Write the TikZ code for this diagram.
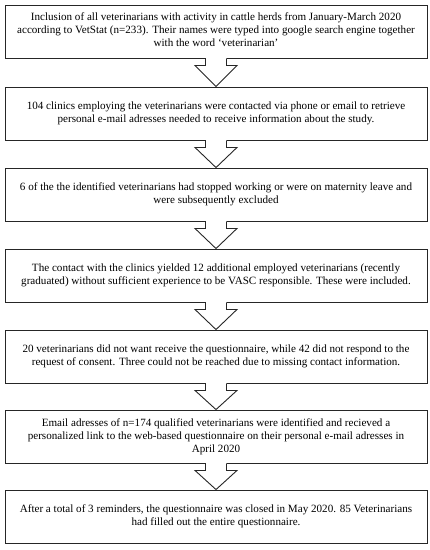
\documentclass[tikz,border=0pt]{standalone}
\usepackage{fontspec}
\setmainfont{Liberation Serif}
\usetikzlibrary{calc}
\tikzset{
  stagebox/.style={draw=black!85, line width=0.9pt, fill=white, minimum width=422pt, minimum height=53pt, inner sep=0pt, align=center, font=\fontsize{11.1}{13.2}\selectfont},
  arrowline/.style={draw=black!85, line width=0.9pt, line join=miter}
}
\newcommand\flowarrow[2]{%
  \fill[white] ($(#1.south)+(-10.5,-1.2)$) rectangle ($(#1.south)+(10.5,7)$);
  \draw[arrowline] ($(#1.south)+(-10.5,0)$) -- ($(#1.south)+(-10.5,7)$) -- ($(#1.south)+(-21,7)$) -- (#2.north) -- ($(#1.south)+(21,7)$) -- ($(#1.south)+(10.5,7)$) -- ($(#1.south)+(10.5,0)$);
}
\begin{document}
\begin{tikzpicture}[x=1pt,y=-1pt]
\useasboundingbox (0,0) rectangle (430,550);
\fill[white] (0,0) rectangle (430,550);
\node[stagebox] (s1) at (216,31.5) {Inclusion of all veterinarians with activity in cattle herds from January-March 2020\\according to VetStat (n=233). Their names were typed into google search engine together\\with the word ‘veterinarian’\vspace{4pt}};
\node[stagebox] (s2) at (216,113.5) {104 clinics employing the veterinarians were contacted via phone or email to retrieve\\personal e-mail adresses needed to receive information about the study.};
\node[stagebox] (s3) at (216,194.5) {6 of the the identified veterinarians had stopped working or were on maternity leave and\\were subsequently excluded};
\node[stagebox] (s4) at (216,275.5) {The contact with the clinics yielded 12 additional employed veterinarians (recently\\graduated) without sufficient experience to be VASC responsible. These were included.};
\node[stagebox] (s5) at (216,356.5) {20 veterinarians did not want receive the questionnaire, while 42 did not respond to the\\request of consent. Three could not be reached due to missing contact information.};
\node[stagebox] (s6) at (216,436.5) {Email adresses of n=174 qualified veterinarians were identified and recieved a\\personalized link to the web-based questionnaire on their personal e-mail adresses in\\April 2020};
\node[stagebox] (s7) at (216,516.5) {After a total of 3 reminders, the questionnaire was closed in May 2020. 85 Veterinarians\\had filled out the entire questionnaire.};
\flowarrow{s1}{s2}
\flowarrow{s2}{s3}
\flowarrow{s3}{s4}
\flowarrow{s4}{s5}
\flowarrow{s5}{s6}
\flowarrow{s6}{s7}
\end{tikzpicture}
\end{document}
